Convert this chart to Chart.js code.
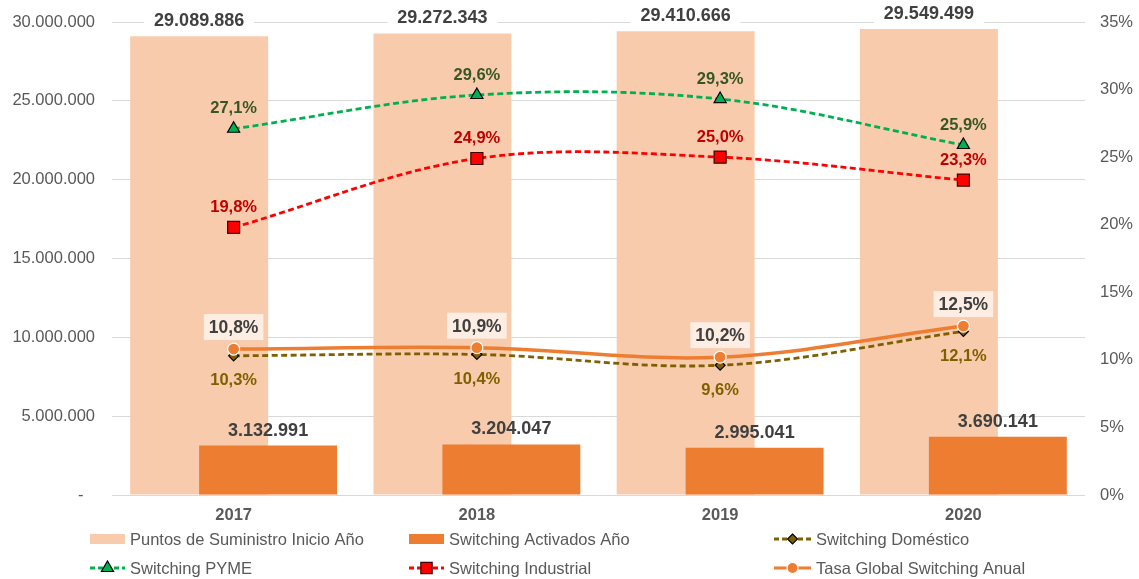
<!DOCTYPE html>
<html><head><meta charset="utf-8">
<script src="https://cdn.jsdelivr.net/npm/chart.js@4/dist/chart.umd.min.js"></script>
<style>html,body{margin:0;padding:0;background:#fff}#wrap{width:1139px;height:579px;position:relative}</style>
</head><body><div id="wrap"><canvas id="c" width="1139" height="579"></canvas></div>
<script>
const years = ['2017', '2018', '2019', '2020'];
const puntos = [29089886, 29272343, 29410666, 29549499];
const activados = [3132991, 3204047, 2995041, 3690141];
const domestico = [10.3, 10.4, 9.6, 12.1];
const pyme = [27.1, 29.6, 29.3, 25.9];
const industrial = [19.8, 24.9, 25.0, 23.3];
const tasa = [10.8, 10.9, 10.2, 12.5];
const seriesNames = ['Puntos de Suministro Inicio Año', 'Switching Activados Año', 'Switching Doméstico', 'Switching PYME', 'Switching Industrial', 'Tasa Global Switching Anual'];

const FONT = '"Liberation Sans", Arial, sans-serif';
const fmtNum = v => v === 0 ? '-\u2002\u2009' : String(Math.round(v)).replace(/\B(?=(\d{3})+(?!\d))/g, '.');
const fmtPct = v => v.toFixed(1).replace('.', ',') + '%';

const labelCfg = [
  {fmt: fmtNum, size: 18, color: '#404040', dy: -16, bg: '#ffffff', padX: 10, h: 22},
  {fmt: fmtNum, size: 18, color: '#404040', dy: -16},
  {fmt: fmtPct, size: 16.5, color: '#7F6000', dy: 24},
  {fmt: fmtPct, size: 16.5, color: '#375623', dy: -21},
  {fmt: fmtPct, size: 16.5, color: '#C00000', dy: -21},
  {fmt: fmtPct, size: 17.5, color: '#404040', dy: -22, bg: 'rgba(255,255,255,0.65)', padX: 5, h: 26}
];

function marker(ctx, type, x, y, fill, stroke, r, lw) {
  ctx.save();
  ctx.setLineDash([]);
  ctx.fillStyle = fill; ctx.strokeStyle = stroke; ctx.lineWidth = lw;
  ctx.beginPath();
  if (type === 'triangle') {
    ctx.moveTo(x, y - r); ctx.lineTo(x + r * 0.866, y + r * 0.5); ctx.lineTo(x - r * 0.866, y + r * 0.5); ctx.closePath();
  } else if (type === 'rect') {
    const s = r * Math.SQRT1_2; ctx.rect(x - s, y - s, 2 * s, 2 * s);
  } else if (type === 'rectRot') {
    ctx.moveTo(x, y - r); ctx.lineTo(x + r, y); ctx.lineTo(x, y + r); ctx.lineTo(x - r, y); ctx.closePath();
  } else {
    ctx.arc(x, y, r, 0, Math.PI * 2);
  }
  ctx.fill(); ctx.stroke();
  ctx.restore();
}

const drawOrderPlugin = {
  id: 'drawOrder',
  beforeDatasetsDraw(chart) {
    [0, 1, 2, 3, 4, 5].forEach(i => {
      const meta = chart.getDatasetMeta(i);
      if (!meta.hidden) meta.controller.draw();
    });
    return false;
  }
};

const labelsPlugin = {
  id: 'valueLabels',
  afterDraw(chart) {
    const ctx = chart.ctx;
    ctx.save();
    chart.data.datasets.forEach((ds, di) => {
      const cfg = labelCfg[di];
      const meta = chart.getDatasetMeta(di);
      meta.data.forEach((el, i) => {
        const txt = cfg.fmt(ds.data[i]);
        const x = el.x, y = el.y + cfg.dy;
        ctx.font = 'bold ' + cfg.size + 'px ' + FONT;
        if (cfg.bg) {
          const w = ctx.measureText(txt).width + cfg.padX * 2;
          ctx.fillStyle = cfg.bg;
          ctx.fillRect(x - w / 2, y - cfg.h / 2, w, cfg.h);
        }
        ctx.fillStyle = cfg.color;
        ctx.textAlign = 'center';
        ctx.textBaseline = 'middle';
        ctx.fillText(txt, x, y + 1);
      });
    });
    // legend
    const cols = [90, 409, 774];
    const rows = [539, 568];
    const items = [
      {kind: 'box', color: '#F8CBAD'},
      {kind: 'box', color: '#ED7D31'},
      {kind: 'line', color: '#7F6000', dash: [5, 3], m: 'rectRot', fill: '#7F6000', stroke: '#000', r: 5},
      {kind: 'line', color: '#00B050', dash: [5, 3], m: 'triangle', fill: '#00B050', stroke: '#000', r: 7},
      {kind: 'line', color: '#FF0000', dash: [5, 3], m: 'rect', fill: '#FF0000', stroke: '#400000', r: 8},
      {kind: 'line', color: '#ED7D31', dash: [], m: 'circle', fill: '#ED7D31', stroke: '#fff', r: 5.5}
    ];
    items.forEach((it, k) => {
      const x = cols[k % 3], y = rows[Math.floor(k / 3)];
      const w = k % 3 === 2 ? 37 : 35;
      if (it.kind === 'box') {
        ctx.fillStyle = it.color;
        ctx.fillRect(x, y - 5, w, 10);
      } else {
        ctx.save();
        ctx.strokeStyle = it.color; ctx.lineWidth = 3;
        ctx.setLineDash(it.dash);
        ctx.beginPath(); ctx.moveTo(x, y); ctx.lineTo(x + w, y); ctx.stroke();
        ctx.restore();
        marker(ctx, it.m, x + w / 2, y, it.fill, it.stroke, it.r, 1.2);
      }
      ctx.font = '16.5px ' + FONT;
      ctx.fillStyle = '#595959';
      ctx.textAlign = 'left';
      ctx.textBaseline = 'middle';
      ctx.fillText(seriesNames[k], x + w + 5, y + 1);
    });
    ctx.restore();
  }
};

const lineDs = (label, data, color, dash, style, fill, stroke, r, bw) => ({
  type: 'line', label, data, yAxisID: 'y1',
  borderColor: color, borderWidth: bw, borderDash: dash,
  tension: 0.35, fill: false,
  pointStyle: style, pointRadius: r, pointBackgroundColor: fill,
  pointBorderColor: stroke, pointBorderWidth: 1.2
});

const noVPad = s => { s.paddingTop = 0; s.paddingBottom = 0; };

new Chart(document.getElementById('c'), {
  data: {
    labels: years,
    datasets: [
      {type: 'bar', label: seriesNames[0], data: puntos, yAxisID: 'y', backgroundColor: '#F8CBAD', barPercentage: 2, categoryPercentage: 0.567},
      {type: 'bar', label: seriesNames[1], data: activados, yAxisID: 'y', backgroundColor: '#ED7D31', barPercentage: 2, categoryPercentage: 0.567},
      lineDs(seriesNames[2], domestico, '#7F6000', [6, 3.5], 'rectRot', '#7F6000', '#000000', 5, 2.8),
      lineDs(seriesNames[3], pyme, '#00B050', [6, 3.5], 'triangle', '#00B050', '#000000', 7, 2.8),
      lineDs(seriesNames[4], industrial, '#FF0000', [6, 3.5], 'rect', '#FF0000', '#400000', 8.5, 2.8),
      lineDs(seriesNames[5], tasa, '#ED7D31', [], 'circle', '#ED7D31', '#ffffff', 6, 3.5)
    ]
  },
  options: {
    responsive: false, animation: false,
    layout: {padding: {top: 22, left: 0, right: 0, bottom: 50}},
    plugins: {legend: {display: false}, tooltip: {enabled: false}},
    scales: {
      x: {
        grid: {display: false, drawTicks: false}, border: {display: false},
        ticks: {font: {family: FONT, size: 16.5, weight: 'bold'}, color: '#595959', padding: 11},
        afterFit: s => { s.height = 34; }
      },
      y: {
        position: 'left', min: 0, max: 30000000,
        grid: {color: '#D9D9D9', drawTicks: false}, border: {display: false},
        ticks: {stepSize: 5000000, padding: 17, font: {family: FONT, size: 16.5}, color: '#595959', callback: v => fmtNum(v)},
        afterFit: s => { s.width = 112; noVPad(s); }
      },
      y1: {
        position: 'right', min: 0, max: 35,
        grid: {display: false, drawTicks: false}, border: {display: false},
        ticks: {stepSize: 5, padding: 15, font: {family: FONT, size: 16.5}, color: '#595959', callback: v => v + '%'},
        afterFit: s => { s.width = 54; noVPad(s); }
      }
    }
  },
  plugins: [drawOrderPlugin, labelsPlugin]
});
</script></body></html>
